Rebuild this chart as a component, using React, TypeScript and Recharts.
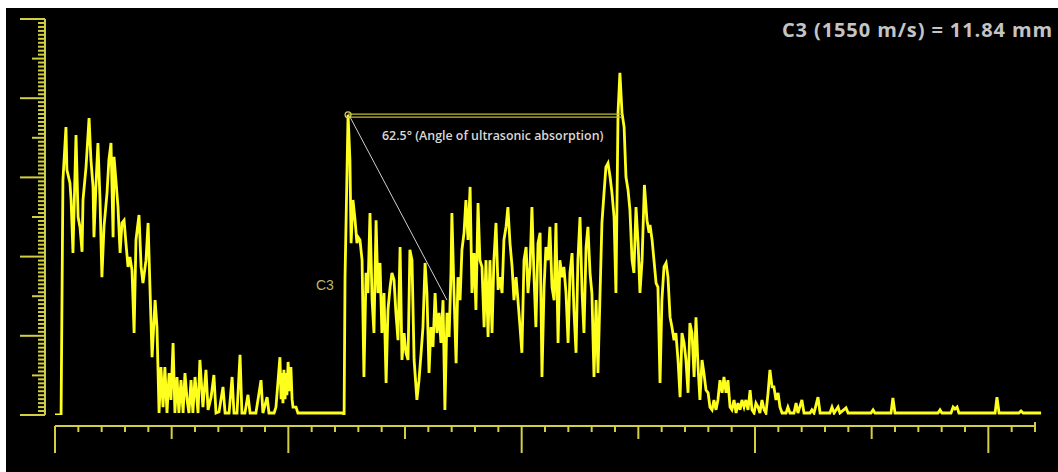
import { LineChart, Line, XAxis, YAxis, ReferenceLine, ReferenceDot } from "recharts";

// trace samples as [time, amplitude]; time in axis units (10 per tick), amplitude 0..100
const firstEcho: [number, number][] = [
  [0, 0], [2.6, 0], [3.4, 59.3], [4.7, 72.7], [5.1, 61.9], [6.4, 58.6], [6.9, 54.3], [7.7, 40.9], [9.0, 70.7], [9.9, 50.0],
  [10.7, 47.5], [11.6, 41.2], [12.0, 54.3], [13.3, 62.6], [14.6, 75.0], [15.4, 64.4], [16.3, 57.6], [16.7, 44.9], [17.6, 58.6], [18.4, 68.7],
  [19.3, 54.3], [20.1, 34.8], [21.0, 47.5], [22.3, 56.1], [23.1, 64.4], [24.0, 68.7], [24.9, 44.9], [25.3, 65.2], [26.1, 59.3], [27.0, 52.5],
  [27.9, 40.9], [28.7, 48.5], [29.6, 49.2], [30.4, 43.4], [31.3, 37.4], [32.1, 39.9], [33.0, 36.6], [33.9, 20.7], [34.7, 44.2], [36.0, 50.5],
  [36.9, 37.4], [37.7, 33.3], [39.0, 39.1], [39.9, 48.5], [40.7, 32.3], [41.6, 14.6], [42.9, 29.0], [43.7, 22.2],
];

const clutter: [number, number][] = [
  [44.6, 0.5], [45.4, 12.1], [46.3, 2.0], [47.1, 12.1], [48.0, 0.5], [48.9, 10.6], [49.7, 3.8], [50.6, 18.2], [51.4, 0.5], [52.3, 9.6],
  [53.1, 0.5], [54.0, 8.8], [54.9, 0.5], [55.7, 10.6], [56.6, 3.8], [57.4, 0.5], [58.3, 8.8], [59.1, 0.5], [60.0, 9.6], [61.3, 0.5],
  [62.1, 13.9], [63.4, 2.0], [64.7, 11.4], [65.6, 1.3], [66.9, 4.5], [68.1, 10.1], [69.0, 0.5], [70.3, 0.8], [72.0, 7.1], [72.9, 0.5],
  [74.6, 0.5], [75.9, 9.6], [76.7, 0.5], [78.0, 0.5], [79.3, 15.2], [80.1, 0.5], [81.4, 0.5], [82.7, 5.1], [83.6, 0.5], [86.1, 0.5],
  [88.3, 8.8], [89.1, 0.5], [90.9, 4.5], [91.7, 0.5], [93.9, 0.5], [94.7, 2.0], [96.4, 14.6], [96.9, 4.0], [97.3, 10.6], [97.7, 3.0],
  [98.1, 11.4], [98.6, 4.0], [99.0, 10.6], [99.4, 5.0], [99.9, 13.4], [100.5, 6.0], [101.1, 12.1], [101.6, 4.0], [102.0, 2.0], [103.3, 2.0],
  [104.1, 0.5], [123.4, 0.5],
];

const c3Echo: [number, number][] = [
  [123.9, 0], [124.3, 34.8], [125.6, 75.8], [126.4, 64.4], [126.9, 43.4], [127.7, 54.3], [128.6, 49.2], [129.4, 43.4], [129.9, 44.9], [130.7, 44.2],
  [131.6, 39.1], [132.4, 9.6], [133.3, 35.9], [134.1, 30.8], [135.0, 51.0], [135.9, 29.0], [136.7, 20.7], [137.6, 49.2], [138.4, 30.8], [139.3, 38.4],
  [140.1, 20.7], [141.0, 30.8], [141.9, 8.1], [142.7, 26.5], [143.6, 32.3], [144.4, 35.9], [145.3, 34.1], [146.1, 25.8], [147.0, 18.9], [147.9, 42.4],
  [148.7, 13.9], [149.6, 20.7], [150.4, 15.7], [151.3, 13.9], [152.1, 41.7], [153.0, 39.1], [153.9, 13.9], [155.1, 3.8], [156.0, 8.8], [156.9, 15.7],
  [157.7, 22.2], [158.6, 38.4], [159.4, 30.8], [160.3, 10.6], [161.1, 22.2], [162.0, 17.2], [162.9, 30.8], [163.7, 20.7], [164.6, 25.8], [165.4, 18.2],
  [166.3, 29.0], [167.1, 1.3], [168.0, 25.8], [168.9, 19.7], [169.7, 35.9], [170.1, 51.0], [171.0, 30.8], [171.9, 13.1], [172.7, 34.8], [173.6, 29.0],
  [174.4, 41.7], [175.3, 46.0], [176.1, 54.3], [177.0, 44.2], [177.9, 57.6], [178.7, 30.8], [179.6, 40.9], [180.4, 26.5], [181.3, 53.5], [182.1, 39.1],
  [183.0, 37.4], [183.9, 22.2], [184.7, 39.1], [185.6, 19.7], [186.4, 39.1], [187.3, 20.7], [188.1, 39.1], [189.0, 48.5], [189.9, 31.6], [190.7, 34.8],
  [191.6, 30.8], [192.4, 44.2], [193.3, 47.5], [194.1, 52.5], [195.0, 43.4], [195.9, 37.4], [196.7, 29.0], [197.6, 34.8], [198.4, 29.0], [199.3, 22.2],
  [200.1, 15.7], [201.0, 39.1], [201.9, 42.4], [202.7, 30.8], [203.6, 37.4], [204.4, 52.5], [205.3, 34.8], [206.1, 22.2], [207.0, 43.4], [207.9, 46.0],
  [208.7, 9.6], [209.6, 32.3], [210.4, 42.4], [211.3, 39.1], [212.1, 47.5], [213.0, 32.3], [213.9, 29.0], [214.7, 48.5], [215.6, 18.2], [216.4, 39.1],
  [217.3, 34.8], [218.1, 37.4], [219.0, 30.8], [219.9, 18.2], [220.7, 35.9], [221.6, 40.9], [222.4, 26.5], [223.3, 15.7], [224.1, 39.1], [225.0, 50.0],
  [225.9, 30.8], [226.7, 20.7], [227.6, 42.4], [228.4, 47.5], [229.3, 35.9], [230.1, 30.8], [231.0, 9.6], [231.9, 29.0], [232.7, 10.6], [233.6, 30.8],
  [234.4, 48.5], [235.3, 56.1], [236.1, 62.6], [237.0, 63.6], [237.9, 60.1], [238.7, 56.1], [239.6, 50.0], [240.4, 30.8], [241.3, 76.3], [242.1, 86.4],
  [243.0, 76.3], [243.9, 72.7], [244.7, 60.1], [245.6, 56.8], [246.4, 51.8], [247.3, 39.1], [248.1, 35.9], [249.0, 52.5], [249.9, 43.4], [250.7, 30.8],
  [251.6, 39.1], [252.6, 58.1],
];

const decay: [number, number][] = [
  [253.7, 49.2], [254.6, 46.0], [255.0, 48.0], [255.9, 44.2], [256.7, 39.1], [257.6, 33.3], [258.4, 32.3], [259.3, 8.1], [260.1, 29.0], [261.0, 37.4],
  [261.9, 38.4], [262.7, 34.8], [263.6, 24.7], [264.4, 22.2], [265.3, 18.9], [266.1, 20.7], [267.0, 13.9], [267.9, 4.5], [268.7, 20.7], [269.6, 18.2],
  [270.4, 13.9], [271.3, 5.6], [272.1, 23.2], [273.0, 20.7], [273.9, 9.6], [274.7, 24.7], [275.6, 12.1], [276.4, 3.8], [277.3, 13.9], [278.1, 10.6],
  [279.0, 6.3], [279.9, 5.6], [280.7, 2.0], [281.6, 1.3], [282.4, 3.8], [283.3, 1.3], [284.1, 3.8], [285.0, 8.8], [285.9, 5.6], [286.7, 9.6],
  [287.6, 5.6], [288.4, 8.8], [289.3, 2.0], [290.1, 1.3], [291.0, 3.8], [291.9, 0.5], [292.7, 3.0], [293.6, 1.3], [294.4, 3.8], [295.3, 2.0],
  [296.1, 3.8], [297.0, 1.3], [297.9, 6.3], [298.7, 1.3], [299.6, 0.5], [300.4, 3.0], [301.3, 2.0], [302.1, 0.5], [303.0, 3.8], [303.9, 1.3],
  [304.7, 0.5], [305.6, 5.6], [306.4, 11.4], [307.3, 7.1], [308.1, 7.1], [309.0, 3.8], [309.9, 5.6], [310.7, 2.0], [311.6, 0.5], [313.3, 0.5],
  [314.1, 2.0], [315.0, 0.5], [316.7, 0.5], [317.6, 3.0], [318.4, 0.5], [320.1, 3.8], [321.0, 0.5], [323.6, 0.5], [324.4, 1.3], [325.3, 0.5],
  [327.0, 4.5], [327.9, 0.5], [332.1, 0.5], [333.0, 2.0], [333.9, 0.5], [335.6, 2.0], [336.4, 0.5], [339.0, 1.8], [339.9, 0.5], [349.7, 0.5],
  [350.6, 1.3], [351.4, 0.5], [358.3, 0.5], [359.1, 4.3], [360.0, 0.5], [378.4, 0.5], [379.3, 1.3], [380.1, 0.5], [384.0, 0.5], [384.9, 2.0],
  [385.7, 1.5], [386.6, 2.0], [387.4, 0.5], [402.9, 0.5], [403.7, 4.5], [404.6, 0.5], [413.1, 0.5], [414.0, 1.0], [414.9, 0.5], [422.6, 0.5],
];

const xTicks = Array.from({ length: 43 }, (_, i) => i * 10);
const yTicks = Array.from({ length: 101 }, (_, i) => i);

const trace = [...firstEcho, ...clutter, ...c3Echo, ...decay].map(([t, amp]) => ({ t, amp }));

const AXIS = "#d3cf43";
const AXIS_X = 39; // y-axis line, chart coords
const AXIS_Y = 418; // x-axis line, chart coords

function YTick(props: any) {
  const { y, payload } = props;
  const v = payload.value;
  const len = v % 20 === 0 ? 25 : v % 10 === 0 ? 13 : 7;
  return <line x1={AXIS_X - len} x2={AXIS_X} y1={y} y2={y} stroke={AXIS} strokeWidth={2} />;
}

function XTick(props: any) {
  const { x, payload } = props;
  const v = payload.value;
  const len = v % 100 === 0 ? 27 : v % 50 === 0 ? 13 : 6;
  const top = v === 420 ? AXIS_Y - 4 : AXIS_Y;
  return <line x1={x} x2={x} y1={top} y2={AXIS_Y + len} stroke={AXIS} strokeWidth={2} />;
}

export default function App() {
  return (
    <div style={{ position: "absolute", left: 6, top: 8, width: 1052, height: 464, background: "#000", overflow: "hidden" }}>
      <LineChart width={1052} height={464} data={trace} margin={{ top: 11, right: 16, bottom: 0, left: 0 }}>
        <XAxis
          dataKey="t"
          type="number"
          domain={[0, 423]}
          ticks={xTicks}
          interval={0}
          height={57}
          axisLine={false}
          tickLine={false}
          tick={(p: any) => <XTick {...p} />}
          allowDataOverflow
        />
        <YAxis
          type="number"
          domain={[0, 100]}
          ticks={yTicks}
          interval={0}
          width={49}
          axisLine={false}
          tickLine={false}
          tick={(p: any) => <YTick {...p} />}
          allowDataOverflow
        />
        <ReferenceLine segment={[{ x: -4.3, y: 0 }, { x: -4.3, y: 100 }]} stroke={AXIS} strokeWidth={2} ifOverflow="visible" />
        <ReferenceLine segment={[{ x: 0, y: -2.8 }, { x: 420, y: -2.8 }]} stroke={AXIS} strokeWidth={2} ifOverflow="visible" />
        <Line type="linear" dataKey="amp" stroke="#ffff1e" strokeWidth={2.8} dot={false} isAnimationActive={false} />
        <ReferenceLine segment={[{ x: 125.6, y: 76.0 }, { x: 243.0, y: 76.0 }]} stroke="#c2bb3a" strokeWidth={1.2} ifOverflow="visible" />
        <ReferenceLine segment={[{ x: 125.6, y: 75.2 }, { x: 243.0, y: 75.2 }]} stroke="#c2bb3a" strokeWidth={1.2} ifOverflow="visible" />
        <ReferenceLine segment={[{ x: 126.4, y: 75.3 }, { x: 168.0, y: 29.0 }]} stroke="#cfcfcf" strokeWidth={1} ifOverflow="visible" />
        <ReferenceDot x={125.6} y={75.8} r={3} fill="none" stroke="#d8d060" strokeWidth={1.2} ifOverflow="visible" />
      </LineChart>
      <div style={{ position: "absolute", right: 5, top: 12, fontFamily: "'Open Sans'", fontWeight: 700, fontSize: 20, letterSpacing: 0.9, lineHeight: "20px", color: "#c4c4c4", whiteSpace: "nowrap" }}>
        C3 (1550 m/s) = 11.84 mm
      </div>
      <div style={{ position: "absolute", left: 376, top: 121, fontFamily: "'Open Sans'", fontWeight: 600, fontSize: 12.4, lineHeight: "14px", color: "#d8d8d8", whiteSpace: "nowrap" }}>
        62.5° (Angle of ultrasonic absorption)
      </div>
      <div style={{ position: "absolute", left: 310, top: 269, fontFamily: "'Liberation Sans'", fontSize: 14, lineHeight: "16px", color: "#bdb66a", whiteSpace: "nowrap" }}>
        C3
      </div>
    </div>
  );
}
